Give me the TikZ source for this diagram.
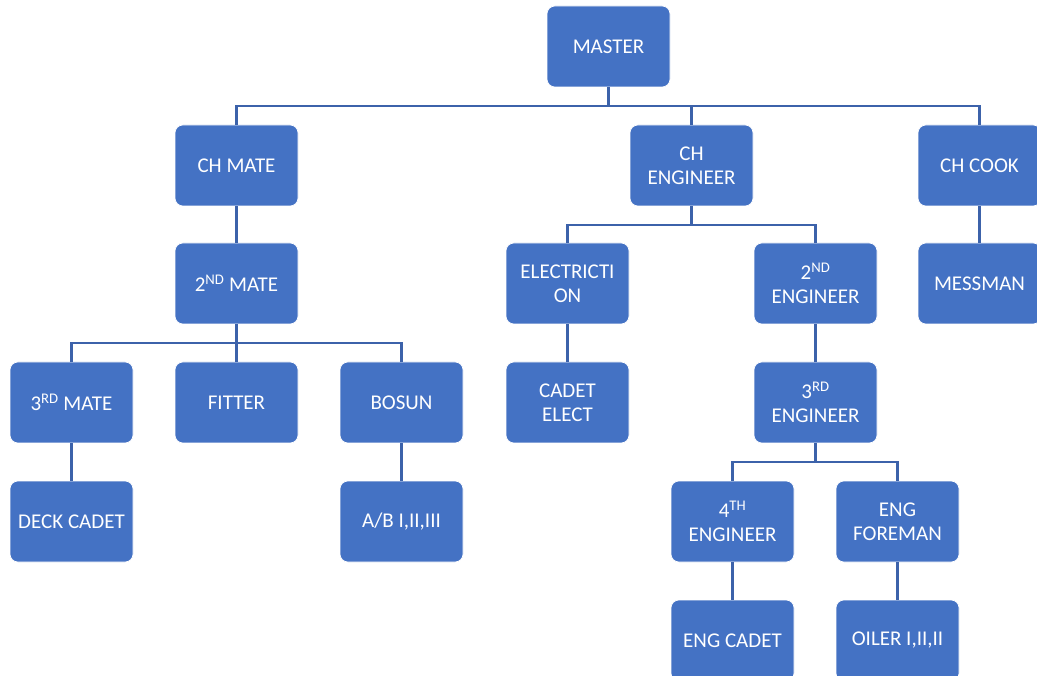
\documentclass[tikz,border=0pt]{standalone}
\usepackage{fontspec}
\setmainfont{Carlito}
\definecolor{boxfill}{HTML}{4472C4}
\definecolor{linec}{HTML}{3C62AA}
\begin{document}
\begin{tikzpicture}[x=1pt,y=-1pt,
  box/.style={draw=white, line width=0.6pt, fill=boxfill, rounded corners=8pt,
    minimum width=123pt, minimum height=81pt, inner sep=0pt, text=white,
    align=center, font=\fontsize{21}{24}\selectfont},
  conn/.style={draw=linec, line width=2.4pt}]
\clip (0,0) rectangle (1037,676);
\fill[white] (0,0) rectangle (1037,676);
% row 1
\node[box] (master) at (608.5,46.5) {MASTER};
% row 2
\node[box] (chmate) at (236.5,165.5) {CH MATE};
\node[box] (cheng) at (691.5,165.5) {CH\\ENGINEER};
\node[box] (chcook) at (979.5,165.5) {CH COOK};
% row 3
\node[box] (mate2) at (236.5,283.5) {2\textsuperscript{ND} MATE};
\node[box] (elec) at (567.5,283.5) {ELECTRICTI\\ON};
\node[box] (eng2) at (815.5,283.5) {2\textsuperscript{ND}\\ENGINEER};
\node[box] (messman) at (979.5,283.5) {MESSMAN};
% row 4
\node[box] (mate3) at (71.5,402.5) {3\textsuperscript{RD} MATE};
\node[box] (fitter) at (236.5,402.5) {FITTER};
\node[box] (bosun) at (401.5,402.5) {BOSUN};
\node[box] (cadetel) at (567.5,402.5) {CADET\\ELECT};
\node[box] (eng3) at (815.5,402.5) {3\textsuperscript{RD}\\ENGINEER};
% row 5
\node[box] (deckcadet) at (71.5,521.5) {DECK CADET};
\node[box] (ab) at (401.5,521.5) {A/B I,II,III};
\node[box] (eng4) at (732.5,521.5) {4\textsuperscript{TH}\\ENGINEER};
\node[box] (foreman) at (897.5,521.5) {ENG\\FOREMAN};
% row 6
\node[box] (engcadet) at (732.5,640.5) {ENG CADET};
\node[box] (oiler) at (897.5,640.5) {OILER I,II,II};
% buses
\coordinate (b1) at (608.5,106);
\coordinate (b2) at (691.5,225);
\coordinate (b3) at (236.5,343);
\coordinate (b4) at (815.5,462);
\draw[conn] (master.south) -- (b1);
\draw[conn] (chmate.north) |- (b1) -| (chcook.north);
\draw[conn] (b1) -| (cheng.north);
\draw[conn] (cheng.south) -- (b2);
\draw[conn] (elec.north) |- (b2) -| (eng2.north);
\draw[conn] (mate2.south) -- (b3);
\draw[conn] (mate3.north) |- (b3) -| (bosun.north);
\draw[conn] (b3) -- (fitter.north);
\draw[conn] (eng3.south) -- (b4);
\draw[conn] (eng4.north) |- (b4) -| (foreman.north);
% single links
\draw[conn] (chmate.south) -- (mate2.north);
\draw[conn] (chcook.south) -- (messman.north);
\draw[conn] (elec.south) -- (cadetel.north);
\draw[conn] (eng2.south) -- (eng3.north);
\draw[conn] (mate3.south) -- (deckcadet.north);
\draw[conn] (bosun.south) -- (ab.north);
\draw[conn] (eng4.south) -- (engcadet.north);
\draw[conn] (foreman.south) -- (oiler.north);
\end{tikzpicture}
\end{document}
